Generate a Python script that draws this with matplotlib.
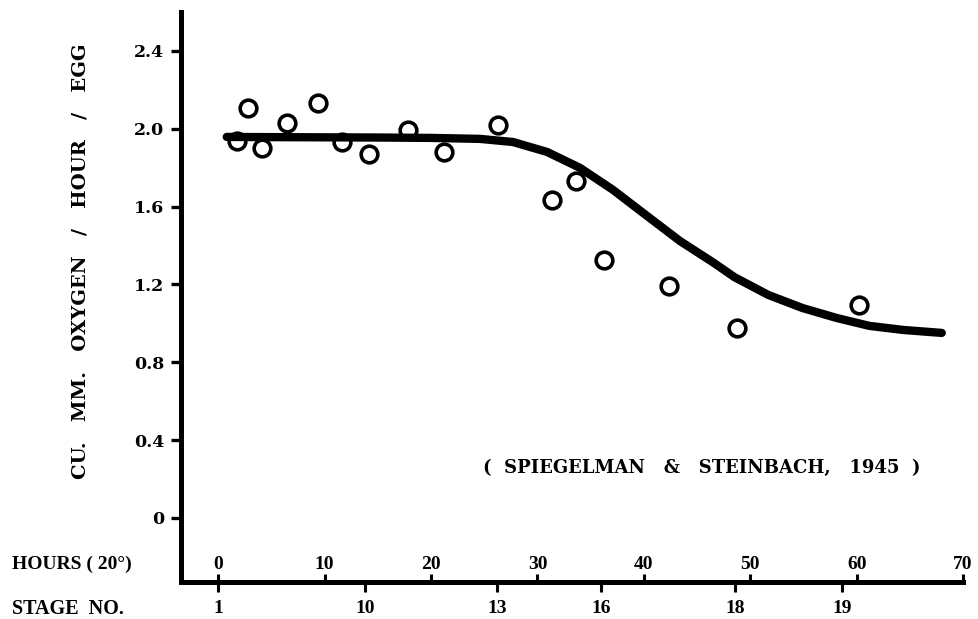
import matplotlib
matplotlib.use("Agg")
from matplotlib import pyplot as plt

# measured oxygen uptake (open circles)
hours_obs = [1.8, 2.8, 4.1, 6.5, 9.4, 11.6, 14.2, 17.8, 21.2, 26.3,
             31.4, 33.6, 36.3, 42.4, 48.8, 60.2]
oxygen_obs = [1.937, 2.107, 1.901, 2.030, 2.133, 1.932, 1.871, 1.994, 1.881, 2.020,
              1.634, 1.732, 1.326, 1.192, 0.976, 1.095]

# hand drawn trend curve
curve_hours = [0.8, 5, 10, 15, 20, 24.6, 27.7, 30.9, 34.0, 37.1, 40.3, 43.4,
               46.6, 48.5, 51.7, 54.9, 58.1, 61.2, 64.4, 68.0]
curve_oxygen = [1.958, 1.957, 1.956, 1.955, 1.953, 1.948, 1.932, 1.881, 1.799, 1.686,
                1.552, 1.423, 1.310, 1.238, 1.146, 1.079, 1.028, 0.987, 0.966, 0.951]

y_ticks = [0, 0.4, 0.8, 1.2, 1.6, 2.0, 2.4]
y_labels = ["0", "0.4", "0.8", "1.2", "1.6", "2.0", "2.4"]
hour_ticks = [0, 10, 20, 30, 40, 50, 60, 70]
stage_pos = [0, 13.8, 26.2, 36.0, 48.6, 58.6]
stage_labels = ["1", "10", "13", "16", "18", "19"]

serif_bold = dict(family="DejaVu Serif", weight="bold")
cond = dict(family="Liberation Serif", weight="bold")

fig = plt.figure(figsize=(9.79, 6.19), dpi=100)
ax = fig.add_axes([0.1849, 0.0598, 0.7988, 0.9208])
ax.set_xlim(-3.5, 70)
ax.set_ylim(-0.329, 2.60)

ax.spines[["top", "right"]].set_visible(False)
for side in ["left", "bottom"]:
    ax.spines[side].set_linewidth(3.6)

ax.plot(curve_hours, curve_oxygen, color="black", lw=6, solid_capstyle="round", zorder=3)
ax.plot(hours_obs, oxygen_obs, "o", ms=12, mfc="none", mec="black", mew=2.6, zorder=2)

ax.set_yticks(y_ticks)
ax.set_yticklabels(y_labels, fontsize=12.5, **serif_bold)
ax.tick_params(axis="y", direction="out", length=7, width=2.4, pad=5)

# stage numbers under the axis line
ax.set_xticks(stage_pos)
ax.set_xticklabels(stage_labels, fontsize=14, **cond)
ax.tick_params(axis="x", direction="out", length=7, width=2.2, pad=6)

# hours above the axis line
sec = ax.secondary_xaxis(0.0)
sec.set_alignment("top")
sec.spines["top"].set_visible(False)
sec.spines["bottom"].set_visible(False)
sec.set_xticks(hour_ticks)
sec.set_xticklabels([str(h) for h in hour_ticks], fontsize=14, **cond)
sec.tick_params(axis="x", direction="out", length=5.8, width=2.2, pad=1)

fig.text(0.012, (619 - 564) / 619, "HOURS ( 20°)", fontsize=14, va="center", ha="left", **cond)
fig.text(0.012, (619 - 609) / 619, "STAGE  NO.", fontsize=14.5, va="center", ha="left", **cond)

fig.text(81 / 979, 1 - 261 / 619, "CU.   MM.   OXYGEN   /   HOUR   /   EGG", rotation=90,
         fontsize=14, va="center", ha="center", **serif_bold)

ax.text(45.4, 0.257, "(  SPIEGELMAN   &   STEINBACH,   1945  )", fontsize=13,
        ha="center", va="center", **serif_bold)

fig.savefig("out.png", dpi=100)
